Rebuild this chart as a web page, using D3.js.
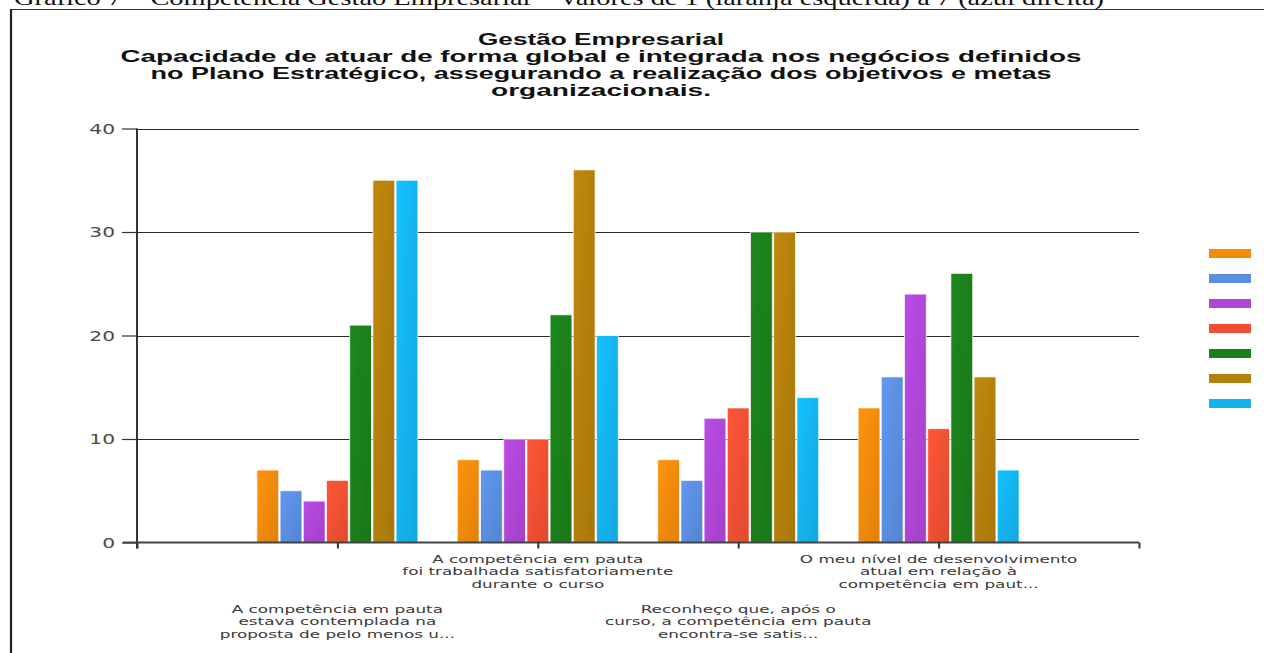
<!DOCTYPE html>
<html>
<head>
<meta charset="utf-8">
<script src="https://cdn.jsdelivr.net/npm/d3@7"></script>
<style>
  html, body { margin: 0; padding: 0; background: #fff; }
  svg { display: block; }
</style>
</head>
<body>
<svg id="chart" width="1264" height="653"></svg>
<script>
// ---- data ----
const caption = "Gráfico 7 – Competência Gestão Empresarial – Valores de 1 (laranja esquerda) a 7 (azul direita)";
const titleLines = [
  "Gestão Empresarial",
  "Capacidade de atuar de forma global e integrada nos negócios definidos",
  "no Plano Estratégico, assegurando a realização dos objetivos e metas",
  "organizacionais."
];
const categoryLabels = [
  ["A competência em pauta", "estava contemplada na", "proposta de pelo menos u..."],
  ["A competência em pauta", "foi trabalhada satisfatoriamente", "durante o curso"],
  ["Reconheço que, após o", "curso, a competência em pauta", "encontra-se satis..."],
  ["O meu nível de desenvolvimento", "atual em relação à", "competência em paut..."]
];
const seriesNames = ["1", "2", "3", "4", "5", "6", "7"];
const seriesColors = ["#f28a0c", "#5a8ee0", "#ae46d6", "#ef5033", "#1b7f1b", "#b3800c", "#14b3f0"];
// values[series][category]
const values = [
  [7, 8, 8, 13],
  [5, 7, 6, 16],
  [4, 10, 12, 24],
  [6, 10, 13, 11],
  [21, 22, 30, 26],
  [35, 36, 30, 16],
  [35, 20, 14, 7]
];
const yTicks = [0, 10, 20, 30, 40];

// ---- layout ----
const svg = d3.select("#chart");
const plot = { left: 137, right: 1139, top: 128.5, bottom: 542.5 };
const textStretch = 1.5;

// stretch a text element horizontally around its own anchor point
function stretch(sel, sx) {
  sel.each(function () {
    const t = d3.select(this);
    const x = +t.attr("x") || 0, y = +t.attr("y") || 0;
    t.attr("transform", `translate(${x},${y}) scale(${sx},1) translate(${-x},${-y})`);
  });
}

// frame around the figure
svg.append("line").attr("x1", 10).attr("x2", 1264).attr("y1", 9.5).attr("y2", 9.5)
  .attr("stroke", "#333").attr("stroke-width", 1.2);
svg.append("line").attr("x1", 11).attr("x2", 11).attr("y1", 9).attr("y2", 653)
  .attr("stroke", "#222").attr("stroke-width", 2.2);

// figure caption (runs past the top edge of the page)
svg.append("text").attr("x", 14).attr("y", 5)
  .attr("font-family", "'Liberation Serif', 'Times New Roman', serif")
  .attr("font-size", 22).attr("fill", "#111")
  .attr("textLength", 1090).attr("lengthAdjust", "spacingAndGlyphs")
  .text(caption);

// chart title
const titleWidths = [246, 961, 901, 220];
svg.append("g").selectAll("text").data(titleLines).join("text")
  .attr("x", 601).attr("y", (d, i) => 45 + i * 17)
  .attr("text-anchor", "middle")
  .attr("font-family", "'Liberation Sans', Arial, sans-serif")
  .attr("font-weight", "bold").attr("font-size", 16.5).attr("fill", "#111")
  .attr("textLength", (d, i) => titleWidths[i]).attr("lengthAdjust", "spacingAndGlyphs")
  .text(d => d);

// scales
const x = d3.scaleLinear().domain([0, categoryLabels.length + 1]).range([plot.left, plot.right]);
const y = d3.scaleLinear().domain([0, 40]).range([plot.bottom, plot.top]);
const inner = d3.scaleBand().domain(seriesNames).range([-80.5, 80.5]).paddingInner(0.06);

// gridlines
svg.append("g").selectAll("line").data(yTicks.filter(t => t > 0)).join("line")
  .attr("x1", plot.left).attr("x2", plot.right)
  .attr("y1", d => Math.round(y(d)) + 0.5).attr("y2", d => Math.round(y(d)) + 0.5)
  .attr("stroke", "#2a2a2a").attr("stroke-width", 1.2);

// bar gradients
const defs = svg.append("defs");
seriesColors.forEach((c, i) => {
  const g = defs.append("linearGradient").attr("id", "grad" + i)
    .attr("x1", 0).attr("y1", 0).attr("x2", 1).attr("y2", 1);
  g.append("stop").attr("offset", "0%").attr("stop-color", d3.color(c).brighter(0.2));
  g.append("stop").attr("offset", "100%").attr("stop-color", d3.color(c).darker(0.2));
});

// bars
const groups = svg.append("g").selectAll("g").data(seriesNames).join("g")
  .attr("fill", (d, i) => `url(#grad${i})`);
groups.selectAll("rect").data((s, si) => values[si].map((v, ci) => ({ s, v, ci })))
  .join("rect")
  .attr("x", d => x(d.ci + 1) + inner(d.s))
  .attr("width", inner.bandwidth())
  .attr("y", d => y(d.v))
  .attr("height", d => y(0) - y(d.v))
  .attr("stroke", "rgba(255,255,255,0.7)").attr("stroke-width", 1);

// y axis
const yAxis = svg.append("g").attr("transform", `translate(${plot.left},0)`)
  .call(d3.axisLeft(y).tickValues(yTicks).tickSizeInner(15).tickSizeOuter(0).tickPadding(7));
yAxis.select(".domain").attr("stroke", "#333").attr("stroke-width", 2)
  .attr("d", `M0,${plot.top}V${plot.bottom + 6}`);
yAxis.selectAll(".tick line").attr("stroke", "#333").attr("stroke-width", 1.2);
yAxis.selectAll(".tick text")
  .attr("font-family", "'DejaVu Sans', Verdana, sans-serif").attr("font-size", 13.5)
  .attr("fill", "#4a4a4a").attr("x", -22).attr("dy", "0.35em")
  .call(stretch, textStretch);

// x axis
const xAxis = svg.append("g").attr("transform", `translate(0,${plot.bottom})`)
  .call(d3.axisBottom(x).tickValues(d3.range(0, categoryLabels.length + 2))
    .tickSize(6).tickSizeOuter(0).tickFormat(""));
xAxis.select(".domain").attr("stroke", "#444").attr("stroke-width", 2)
  .attr("d", `M${plot.left - 14},0H${plot.right}`);
xAxis.selectAll(".tick line").attr("stroke", "#333").attr("stroke-width", 2);

// category labels, alternating rows
const catG = svg.append("g");
categoryLabels.forEach((lines, ci) => {
  const top = ci % 2 === 0 ? 613 : 563;
  catG.selectAll(null).data(lines).join("text")
    .attr("x", x(ci + 1)).attr("y", (d, i) => top + i * 12.5)
    .attr("text-anchor", "middle")
    .attr("font-family", "'DejaVu Sans', Verdana, sans-serif").attr("font-size", 10.5)
    .attr("fill", "#3a3a3a")
    .text(d => d)
    .call(stretch, 1.6);
});

// legend swatches
svg.append("g").selectAll("rect").data(seriesNames).join("rect")
  .attr("x", 1209).attr("y", (d, i) => 249 + i * 25)
  .attr("width", 42).attr("height", 9)
  .attr("fill", (d, i) => seriesColors[i]);
</script>
</body>
</html>
